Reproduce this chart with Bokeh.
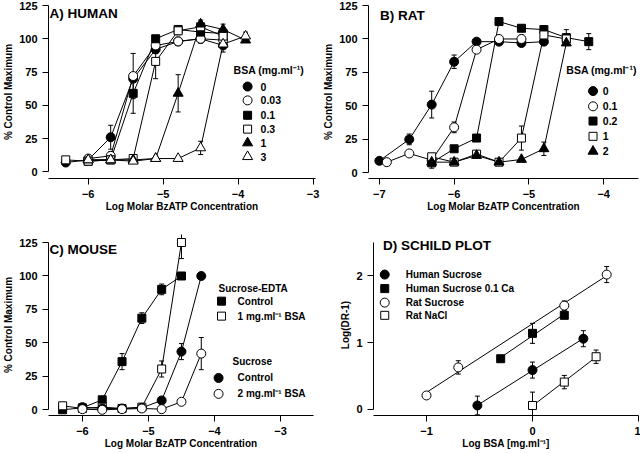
import numpy as np
from bokeh.plotting import figure
from bokeh.layouts import column, row
from bokeh.models import Range1d, FixedTicker, Label, Whisker, TeeHead, ColumnDataSource
from bokeh.embed import file_html
from bokeh.resources import INLINE

FONT = "Liberation Sans"

# ---------------- Panel A: HUMAN ----------------
a_x_0 = [-6.3, -6.0, -5.7, -5.4, -5.1, -4.8, -4.5, -4.2]
a_y_0 = [7, 9, 26, 70, 92, 98, 100, 95]
a_e_0 = [0, 0, 9, 0, 3, 0, 3, 0]
a_x_003 = [-6.0, -5.7, -5.4, -5.1, -4.8, -4.5, -4.2]
a_y_003 = [10, 12, 72, 95, 98, 100, 99]
a_e_003 = [0, 3, 17, 0, 3, 3, 0]
a_x_01 = [-6.0, -5.7, -5.4, -5.1, -4.8, -4.5, -4.2]
a_y_01 = [8, 9, 59, 100, 107, 105, 104]
a_e_01 = [0, 0, 15, 0, 0, 4, 0]
a_x_03 = [-6.3, -6.0, -5.7, -5.4, -5.1, -4.8, -4.5, -4.2]
a_y_03 = [9, 8, 9, 10, 83, 106, 109, 102]
a_e_03 = [0, 0, 0, 0, 13, 3, 3, 4]
a_x_1 = [-6.0, -5.7, -5.4, -5.1, -4.8, -4.5, -4.2, -3.9]
a_y_1 = [9, 9, 9, 10, 59, 111, 107, 99]
a_e_1 = [0, 0, 0, 0, 14, 3, 4, 0]
a_x_3 = [-6.0, -5.7, -5.4, -5.1, -4.8, -4.5, -4.2, -3.9]
a_y_3 = [9, 9, 8, 10, 10, 18, 96, 102]
a_e_3 = [0, 0, 0, 0, 0, 5, 6, 3]
a_legend = ["0", "0.03", "0.1", "0.3", "1", "3"]

# ---------------- Panel B: RAT ----------------
b_x_0 = [-7.0, -6.6, -6.3, -6.0, -5.7, -5.4, -5.1, -4.8]
b_y_0 = [9, 25, 51, 83, 98, 98, 97, 98]
b_e_0 = [0, 4, 10, 5, 0, 0, 0, 0]
b_x_01 = [-6.9, -6.6, -6.3, -6.0, -5.7, -5.4, -5.1]
b_y_01 = [8, 14.5, 9.5, 34, 92, 100, 100]
b_e_01 = [0, 0, 0, 4, 0, 0, 3]
b_x_02 = [-6.3, -6.0, -5.7, -5.4, -5.1, -4.8, -4.5, -4.2]
b_y_02 = [7.5, 18, 26, 113, 108, 107, 101, 98]
b_e_02 = [4, 0, 0, 0, 0, 3, 6, 6]
b_x_1 = [-6.3, -6.0, -5.7, -5.4, -5.1, -4.8, -4.5]
b_y_1 = [12, 8, 14, 8, 26, 103, 100]
b_e_1 = [0, 0, 0, 0, 9, 0, 0]
b_x_2 = [-6.3, -6.0, -5.7, -5.4, -5.1, -4.8, -4.5]
b_y_2 = [8, 8, 13, 8, 10, 18, 97]
b_e_2 = [0, 0, 0, 0, 0, 5, 0]
b_legend = ["0", "0.1", "0.2", "1", "2"]

# ---------------- Panel C: MOUSE ----------------
c_x_edta = [-6.3, -6.0, -5.7, -5.4, -5.1, -4.8, -4.5]
c_y_edta_ctrl = [0, 1.5, 7.5, 36, 68.5, 90, 100]
c_e_edta_ctrl = [0, 0, 0, 6, 4, 4, 0]
c_y_edta_bsa = [3, 1, 2, 1, 2, 30.5, 125]
c_e_edta_bsa = [0, 0, 0, 0, 0, 6, 12]
c_x_suc = [-6.0, -5.7, -5.4, -5.1, -4.8, -4.5, -4.2]
c_y_suc_ctrl = [2, 1, 1, 1.5, 7, 43.5, 100]
c_e_suc_ctrl = [0, 0, 0, 0, 0, 6, 0]
c_y_suc_bsa = [0.5, 0, 0.5, 1, 0.5, 6, 42]
c_e_suc_bsa = [0, 0, 0, 0, 0, 0, 12]

# ---------------- Panel D: SCHILD PLOT ----------------
d_x_hs = [-0.52, 0.0, 0.48]
d_y_hs = [0.06, 0.59, 1.06]
d_e_hs = [0.14, 0.12, 0.12]
d_x_hca = [-0.3, 0.0, 0.3]
d_y_hca = [0.76, 1.14, 1.41]
d_e_hca = [0, 0.15, 0]
d_x_rs = [-1.0, -0.7, 0.3, 0.7]
d_y_rs = [0.21, 0.63, 1.555, 2.02]
d_e_rs = [0, 0.1, 0.07, 0.12]
d_x_rn = [0.0, 0.3, 0.6]
d_y_rn = [0.06, 0.41, 0.79]
d_e_rn = [0.2, 0.1, 0.1]
d_legend = ["Human Sucrose", "Human Sucrose 0.1 Ca", "Rat Sucrose", "Rat NaCl"]

SIZES = {"circle": 9, "square": 8, "triangle": 10}


def make_fig(w, h, xr, yr, borders, xticks, yticks, ybounds, xlabel, ylabel):
    p = figure(width=w, height=h, x_range=Range1d(*xr), y_range=Range1d(*yr),
               output_backend="svg", toolbar_location=None,
               min_border_left=borders[0], min_border_right=borders[1],
               min_border_top=borders[2], min_border_bottom=borders[3])
    p.outline_line_color = None
    p.grid.visible = False
    p.background_fill_color = "white"
    p.border_fill_color = "white"
    for ax in (p.xaxis[0], p.yaxis[0]):
        ax.axis_line_color = "black"
        ax.axis_line_width = 1
        ax.major_tick_line_color = "black"
        ax.major_tick_out = 6
        ax.major_tick_in = 0
        ax.minor_tick_line_color = None
        ax.major_label_text_font = FONT
        ax.major_label_text_font_style = "bold"
        ax.major_label_text_font_size = "11px"
        ax.major_label_text_color = "black"
        ax.axis_label_text_font = FONT
        ax.axis_label_text_font_style = "bold"
        ax.axis_label_text_font_size = "10px"
        ax.axis_label_text_color = "black"
    p.xaxis[0].major_label_standoff = 5
    p.yaxis[0].major_label_standoff = 5
    p.xaxis[0].axis_label_standoff = 0
    p.yaxis[0].axis_label_standoff = 2
    p.xaxis[0].ticker = FixedTicker(ticks=xticks)
    p.yaxis[0].ticker = FixedTicker(ticks=yticks)
    p.yaxis[0].bounds = ybounds
    p.xaxis[0].axis_label = xlabel
    p.yaxis[0].axis_label = ylabel
    return p


def add_whiskers(p, x, y, e):
    bx = [xi for xi, ei in zip(x, e) if ei > 0]
    if not bx:
        return
    src = ColumnDataSource(dict(base=bx,
                                lower=[yi - ei for yi, ei in zip(y, e) if ei > 0],
                                upper=[yi + ei for yi, ei in zip(y, e) if ei > 0]))
    p.add_layout(Whisker(source=src, base="base", lower="lower", upper="upper",
                         line_color="black", line_width=1, level="underlay",
                         upper_head=TeeHead(size=5, line_color="black", line_width=1),
                         lower_head=TeeHead(size=5, line_color="black", line_width=1)))


def add_markers(p, x, y, marker, filled):
    p.scatter(x, y, marker=marker, size=SIZES[marker],
              fill_color="black" if filled else "white",
              line_color="black", line_width=1)


def add_series(p, series):
    for x, y, e, marker, filled in series:
        p.line(x, y, line_color="black", line_width=1)
    for x, y, e, marker, filled in series:
        add_whiskers(p, x, y, e)
    for x, y, e, marker, filled in series:
        add_markers(p, x, y, marker, filled)


def text(p, x, y, s, size="10px", align="left"):
    p.add_layout(Label(x=x, y=y, text=s, text_font=FONT, text_font_style="bold",
                       text_font_size=size, text_color="black", text_baseline="middle",
                       text_align=align))


def manual_legend(p, mx, tx, ys, styles, labels, size="10px"):
    for (marker, filled), yy, lab in zip(styles, ys, labels):
        add_markers(p, [mx], [yy], marker, filled)
        text(p, tx, yy, lab, size)


XL = "Log Molar BzATP Concentration"
YL = "% Control Maximum"

# ---- A ----
pA = make_fig(320, 225, (-6.53, -2.967), (-5, 125), (47, 5, 5, 45),
              [-6, -5, -4, -3], [0, 25, 50, 75, 100, 125], (0, 125), XL, YL)
a_styles = [("circle", True), ("circle", False), ("square", True),
            ("square", False), ("triangle", True), ("triangle", False)]
add_series(pA, [
    (a_x_0, a_y_0, a_e_0, "circle", True),
    (a_x_003, a_y_003, a_e_003, "circle", False),
    (a_x_01, a_y_01, a_e_01, "square", True),
    (a_x_03, a_y_03, a_e_03, "square", False),
    (a_x_1, a_y_1, a_e_1, "triangle", True),
    (a_x_3, a_y_3, a_e_3, "triangle", False),
])
text(pA, -6.515, 118.8, "A)  HUMAN", "13.5px")
text(pA, -4.06, 76.7, "BSA (mg.ml\u207b\u00b9)", "10.5px")
manual_legend(pA, -3.873, -3.70, [64.1, 53.7, 42.5, 32.1, 21.7, 11.4], a_styles, a_legend, "10.5px")

# ---- B ----
pB = make_fig(320, 225, (-7.145, -3.535), (-4.2, 125), (43, 2, 5, 47),
              [-7, -6, -5, -4], [0, 25, 50, 75, 100, 125], (0, 125), XL, YL)
b_styles = [("circle", True), ("circle", False), ("square", True),
            ("square", False), ("triangle", True)]
add_series(pB, [
    (b_x_0, b_y_0, b_e_0, "circle", True),
    (b_x_01, b_y_01, b_e_01, "circle", False),
    (b_x_02, b_y_02, b_e_02, "square", True),
    (b_x_1, b_y_1, b_e_1, "square", False),
    (b_x_2, b_y_2, b_e_2, "triangle", True),
])
text(pB, -6.99, 117.5, "B)  RAT", "13.5px")
text(pB, -4.50, 76.5, "BSA (mg.ml\u207b\u00b9)", "10.5px")
manual_legend(pB, -4.143, -4.012, [61.1, 49.7, 38.7, 27.3, 16.1], b_styles, b_legend, "10.5px")

# ---- C ----
pC = make_fig(320, 228, (-6.514, -2.50), (-4.25, 131), (48, 7, 9, 37),
              [-6, -5, -4, -3], [0, 25, 50, 75, 100, 125], (0, 125), XL, YL)
add_series(pC, [
    (c_x_edta, c_y_edta_ctrl, c_e_edta_ctrl, "square", True),
    (c_x_edta, c_y_edta_bsa, c_e_edta_bsa, "square", False),
    (c_x_suc, c_y_suc_ctrl, c_e_suc_ctrl, "circle", True),
    (c_x_suc, c_y_suc_bsa, c_e_suc_bsa, "circle", False),
])
text(pC, -6.50, 119.7, "C)   MOUSE", "13.5px")
text(pC, -3.938, 90.9, "Sucrose-EDTA", "10px")
manual_legend(pC, -3.893, -3.65, [81.2, 70.0], [("square", True), ("square", False)],
              ["Control", "1 mg.ml\u207b\u00b9 BSA"], "10px")
text(pC, -3.726, 35.8, "Sucrose", "10px")
manual_legend(pC, -3.938, -3.65, [23.8, 11.9], [("circle", True), ("circle", False)],
              ["Control", "2 mg.ml\u207b\u00b9 BSA"], "10px")

# ---- D ----
pD = make_fig(320, 228, (-1.5, 1.0), (-0.09, 2.62), (53, 2, 8, 38),
              [-1, 0, 1], [0, 1, 2], (0, 2.5), "Log BSA [mg.ml\u207b\u00b9]", "Log(DR-1)")
d_series = [
    (d_x_hs, d_y_hs, d_e_hs, "circle", True),
    (d_x_hca, d_y_hca, d_e_hca, "square", True),
    (d_x_rs, d_y_rs, d_e_rs, "circle", False),
    (d_x_rn, d_y_rn, d_e_rn, "square", False),
]
for x, y, e, m, f in d_series:
    slope, icpt = np.polyfit(x, y, 1)
    xe = [min(x), max(x)]
    pD.line(xe, [slope * v + icpt for v in xe], line_color="black", line_width=1)
for x, y, e, m, f in d_series:
    add_whiskers(pD, x, y, e)
for x, y, e, m, f in d_series:
    add_markers(pD, x, y, m, f)
text(pD, -1.41, 2.46, "D)  SCHILD PLOT", "13.5px")
manual_legend(pD, -1.394, -1.196, [2.02, 1.81, 1.60, 1.41],
              [("circle", True), ("square", True), ("circle", False), ("square", False)],
              d_legend, "10px")

layout = column(row(pA, pB), row(pC, pD))
open("out.html", "w").write(file_html(layout, INLINE))
